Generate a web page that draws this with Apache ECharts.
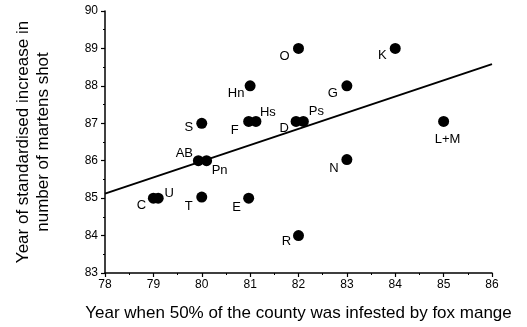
<!DOCTYPE html>
<html>
<head>
<meta charset="utf-8">
<script src="https://cdn.jsdelivr.net/npm/echarts@6/dist/echarts.min.js"></script>
<style>html,body{margin:0;padding:0;background:#fff}#chart{width:527px;height:327px}</style>
</head>
<body>
<div id="chart"></div>
<script>
// county codes
const counties = ['O', 'K', 'G', 'Hn', 'S', 'F', 'Hs', 'D', 'Ps', 'L+M', 'AB', 'Pn', 'N', 'C', 'U', 'T', 'E', 'R'];
// year when 50% of the county was infested by fox mange
const mangeYear = [82, 84, 83, 81, 80, 80.97, 81.12, 81.95, 82.1, 85, 79.93, 80.1, 83, 79, 79.1, 80, 80.97, 82];
// year of standardised increase in martens shot
const martenYear = [89, 89, 88, 88, 87, 87.05, 87.05, 87.05, 87.05, 87.05, 86, 86, 86.03, 85, 85, 85.03, 85, 84];
// regression line end points
const fitX = [78, 86];
const fitY = [85.12, 88.58];
// axis ranges
const xTicks = [78, 86];
const yTicks = [83, 90];

// where each label sits relative to its dot (px)
const labelOffset = {
    'O': [-14, 8], 'K': [-13, 7], 'G': [-14, 8], 'Hn': [-14, 8], 'S': [-13, 4],
    'F': [-14, 9], 'Hs': [12, -9], 'D': [-12, 7], 'Ps': [13, -10], 'L+M': [4, 18],
    'AB': [-14, -7], 'Pn': [13, 10], 'N': [-13, 9], 'C': [-12, 7], 'U': [11, -5],
    'T': [-13, 9], 'E': [-12, 9], 'R': [-12, 6]
};

const font = 'Liberation Sans';
const chart = echarts.init(document.getElementById('chart'));

const points = counties.map((c, i) => ({
    value: [mangeYear[i], martenYear[i]],
    name: c,
    label: { offset: labelOffset[c] }
}));

const axisCommon = {
    type: 'value',
    interval: 1,
    axisLine: { show: true, lineStyle: { color: '#000', width: 1.5 } },
    axisTick: { show: true, length: 4, lineStyle: { color: '#000', width: 1.2 } },
    minorTick: { show: true, splitNumber: 2, length: 2, lineStyle: { color: '#000', width: 1 } },
    splitLine: { show: false },
    axisLabel: { color: '#000', fontSize: 12, fontFamily: font },
    nameLocation: 'middle',
    nameTextStyle: { color: '#000', fontSize: 17, fontFamily: font }
};

const option = {
    backgroundColor: '#fff',
    animation: false,
    grid: { left: 105, right: 35, top: 11, bottom: 54 },
    xAxis: Object.assign({}, axisCommon, {
        min: xTicks[0], max: xTicks[1],
        name: 'Year when 50% of the county was infested by fox mange',
        nameGap: 32,
        axisLabel: Object.assign({}, axisCommon.axisLabel, { margin: 6 })
    }),
    yAxis: Object.assign({}, axisCommon, {
        min: yTicks[0], max: yTicks[1],
        name: 'Year of standardised increase in\nnumber of martens shot',
        nameGap: 52,
        nameTextStyle: Object.assign({}, axisCommon.nameTextStyle, { lineHeight: 20 }),
        axisLabel: Object.assign({}, axisCommon.axisLabel, { margin: 7 })
    }),
    series: [
        {
            type: 'line',
            data: fitX.map((x, i) => [x, fitY[i]]),
            showSymbol: false,
            lineStyle: { color: '#000', width: 2 },
            z: 1
        },
        {
            type: 'scatter',
            data: points,
            symbolSize: 11,
            itemStyle: { color: '#000', opacity: 1 },
            label: {
                show: true,
                formatter: '{b}',
                position: ['50%', '50%'],
                align: 'center',
                verticalAlign: 'middle',
                color: '#000',
                fontSize: 13,
                fontFamily: font
            },
            z: 2
        }
    ]
};

chart.setOption(option);
</script>
</body>
</html>
